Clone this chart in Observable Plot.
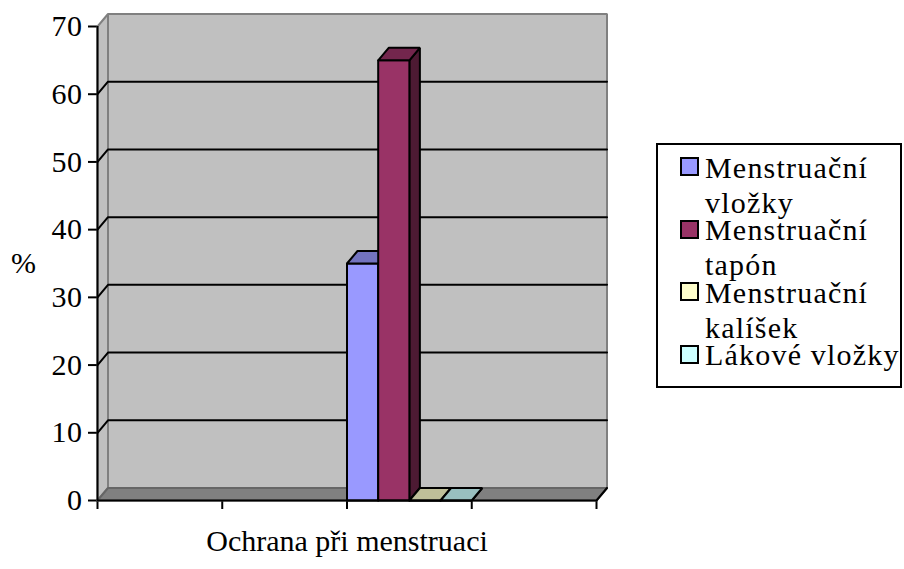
<!DOCTYPE html>
<html>
<head>
<meta charset="utf-8">
<script src="https://cdn.jsdelivr.net/npm/d3@7"></script>
<script src="https://cdn.jsdelivr.net/npm/@observablehq/plot@0.6"></script>
<style>
  body { margin: 0; background: #fff; }
  #chart { position: relative; width: 904px; height: 569px; font-family: "Liberation Serif", "Times New Roman", serif; color: #000; }
  #chart svg g[aria-label^="y-axis"] line,
  #chart svg g[aria-label^="y-axis"] path,
  #chart svg g[aria-label^="x-axis"] line,
  #chart svg g[aria-label^="x-axis"] path { stroke: #000; stroke-width: 2px; }
  #chart svg g[aria-label="x-title"] text { letter-spacing: 0.7px; }
  #chart svg g[aria-label^="y-axis"] text { letter-spacing: 0.5px; }
  #legend { position: absolute; left: 656px; top: 143px; width: 246px; height: 245px; box-sizing: border-box; border: 2px solid #000; background: #fff; }
  #legend .item { position: absolute; left: 22px; display: flex; align-items: flex-start; }
  #legend .swatch { width: 19px; height: 19px; box-sizing: border-box; border: 2px solid #000; margin-top: 7.8px; flex: none; }
  #legend .label { margin-left: 6px; width: 205px; font-size: 30px; line-height: 35.4px; letter-spacing: 1.2px; }
</style>
</head>
<body>
<div id="chart"><div id="legend"></div></div>
<script>
// Series of the 3-D column chart (values in %)
const series = ["Menstruační vložky", "Menstruační tapón", "Menstruační kalíšek", "Lákové vložky"];
const values = [35, 65, 0, 0];
const colors = ["#9999FF", "#993366", "#FFFFCC", "#CCFFFF"];

// Category slots along the x axis; the answers sit in the third slot
const categories = ["1", "2", "3", "4"];
const dataCategory = "3";

// Axis ticks and titles
const yTicks = [0, 10, 20, 30, 40, 50, 60, 70];
const xTitle = "Ochrana při menstruaci";
const yTitle = "%";

// Layout
const W = 904, H = 569;
const M = {top: 26, right: 308, bottom: 69, left: 97};
const yMax = yTicks[yTicks.length - 1];
const nCat = categories.length;
const pxPerX = (W - M.left - M.right) / nCat;
const pxPerY = (H - M.top - M.bottom) / yMax;
// depth of the 3-D box, expressed in data units
const DX = 10.5 / pxPerX, DY = 12.5 / pxPerY;

const shade = (c, k) => { const r = d3.rgb(c); return d3.rgb(r.r * k, r.g * k, r.b * k).formatHex(); };

// closed polygons, one group of vertices per face
const faces = [];
function poly(id, pts, fill, stroke) {
  for (const [x, y] of [...pts, pts[0]]) faces.push({id, x, y, fill, stroke});
}

// walls and floor
poly("wall", [[DX, DY], [nCat + DX, DY], [nCat + DX, yMax + DY], [DX, yMax + DY]], "#C0C0C0", "#808080");
poly("side", [[0, 0], [DX, DY], [DX, yMax + DY], [0, yMax]], "#C0C0C0", "#808080");
poly("floor", [[0, 0], [nCat, 0], [nCat + DX, DY], [DX, DY]], "#808080", "#666666");

// gridlines running over the side wall and the back wall
const grid = [];
for (const v of yTicks.filter(t => t > 0 && t < yMax)) {
  grid.push({id: v, x: 0, y: v}, {id: v, x: DX, y: v + DY}, {id: v, x: nCat + DX, y: v + DY});
}

// columns: side, front and top faces
const bars = [];
const start = categories.indexOf(dataCategory);
series.forEach((name, i) => {
  const v = values[i];
  const x0 = start + i / series.length, x1 = start + (i + 1) / series.length;
  const id = "bar" + i;
  const from = faces.length;
  poly(id + "s", [[x1, 0], [x1 + DX, DY], [x1 + DX, v + DY], [x1, v]], shade(colors[i], 0.5), "#000");
  poly(id + "f", [[x0, 0], [x1, 0], [x1, v], [x0, v]], colors[i], "#000");
  poly(id + "t", [[x0, v], [x1, v], [x1 + DX, v + DY], [x0 + DX, v + DY]], shade(colors[i], 0.75), "#000");
  bars.push(...faces.splice(from));
});

const axisLine = [{x: 0, y: 0}, {x: nCat, y: 0}, {x: nCat + DX, y: DY}];

const chart = Plot.plot({
  width: W,
  height: H,
  marginTop: M.top,
  marginRight: M.right,
  marginBottom: M.bottom,
  marginLeft: M.left,
  style: {
    fontFamily: '"Liberation Serif", "Times New Roman", serif',
    fontSize: "30px",
    background: "transparent",
    color: "#000",
    overflow: "visible"
  },
  x: {domain: [0, nCat], ticks: d3.range(nCat + 1), tickFormat: () => "", tickSize: 9, label: null, axis: "bottom"},
  y: {domain: [0, yMax], ticks: yTicks, tickSize: 9, tickPadding: 6, label: null, axis: "left"},
  color: {type: "identity"},
  marks: [
    Plot.line(faces, {x: "x", y: "y", z: "id", fill: "fill", stroke: "stroke", strokeWidth: 2, strokeLinejoin: "miter", curve: "linear"}),
    Plot.line(grid, {x: "x", y: "y", z: "id", stroke: "#000", strokeWidth: 2, curve: "linear"}),
    Plot.line(bars, {x: "x", y: "y", z: "id", fill: "fill", stroke: "stroke", strokeWidth: 2, strokeLinejoin: "miter", curve: "linear"}),
    Plot.ruleX([0], {y1: 0, y2: yMax, stroke: "#000", strokeWidth: 2}),
    Plot.line(axisLine, {x: "x", y: "y", stroke: "#000", strokeWidth: 2, curve: "linear"}),
    Plot.text([xTitle], {frameAnchor: "bottom", dy: 50, text: d => d, fontSize: 30, fill: "#000", ariaLabel: "x-title"}),
    Plot.text([yTitle], {frameAnchor: "left", dx: -74, text: d => d, fontSize: 30, fill: "#000", textAnchor: "middle", ariaLabel: "y-title"})
  ]
});

document.getElementById("chart").prepend(chart);

// legend
const legend = d3.select("#legend");
series.forEach((name, i) => {
  const item = legend.append("div").attr("class", "item").style("top", `${4.5 + 62.5 * i}px`);
  item.append("span").attr("class", "swatch").style("background", colors[i]);
  item.append("span").attr("class", "label").text(name);
});
</script>
</body>
</html>
